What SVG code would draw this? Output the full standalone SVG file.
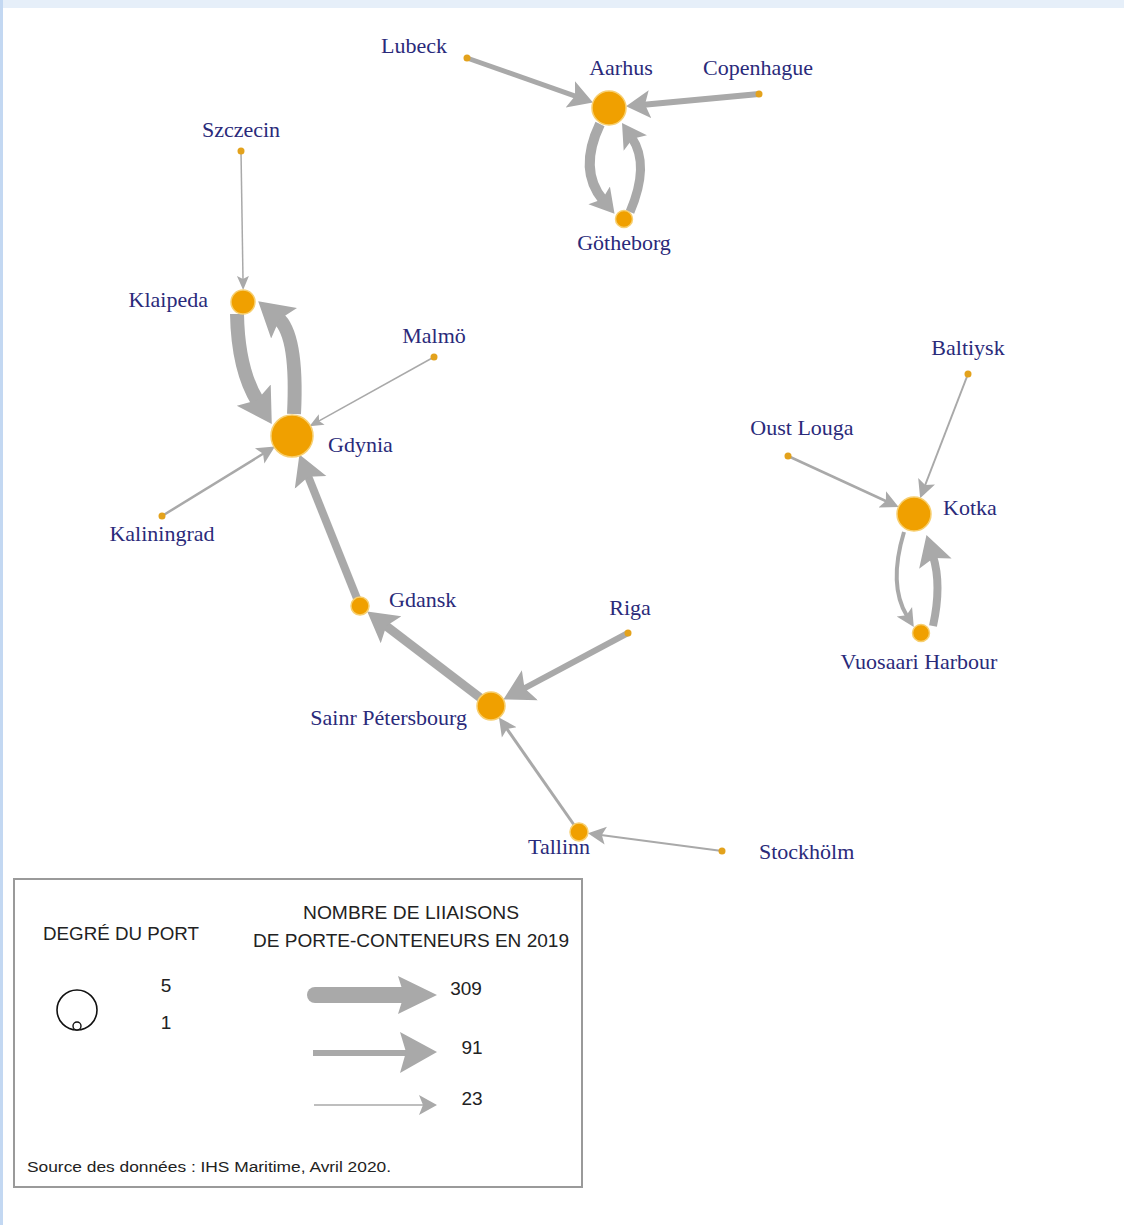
<svg xmlns="http://www.w3.org/2000/svg" width="1124" height="1225" viewBox="0 0 1124 1225">
<style>
.e{fill:none;stroke:#a9a9a9;stroke-linecap:butt}
.hub{fill:#f0a000;stroke:#f7cf70;stroke-width:1.5}
.dot{fill:#e3a21c}
.lbl{font-family:"Liberation Serif","Times New Roman",serif;font-size:22px;fill:#2a2a7a}
.lg{font-family:"Liberation Sans",Arial,sans-serif;fill:#222}
.la{fill:#a9a9a9}
</style>
<defs>
<marker id="ah-s" markerUnits="userSpaceOnUse" viewBox="0 -7 15 14" markerWidth="15" markerHeight="14" refX="4" refY="0" orient="auto"><path d="M0,-6 L14,0 L0,6 L3,0 Z" fill="#a9a9a9"/></marker>
<marker id="ah-s2" markerUnits="userSpaceOnUse" viewBox="0 -10 19 20" markerWidth="19" markerHeight="20" refX="5" refY="0" orient="auto"><path d="M0,-9 L18,0 L0,9 L4,0 Z" fill="#a9a9a9"/></marker>
<marker id="ah-m" markerUnits="userSpaceOnUse" viewBox="0 -15 25 30" markerWidth="25" markerHeight="30" refX="6" refY="0" orient="auto"><path d="M0,-14 L24,0 L0,14 L5,0 Z" fill="#a9a9a9"/></marker>
<marker id="ah-l" markerUnits="userSpaceOnUse" viewBox="0 -18 31 36" markerWidth="31" markerHeight="36" refX="8" refY="0" orient="auto"><path d="M0,-17 L30,0 L0,17 L6,0 Z" fill="#a9a9a9"/></marker>
<marker id="ah-xl" markerUnits="userSpaceOnUse" viewBox="0 -21 35 42" markerWidth="35" markerHeight="42" refX="8" refY="0" orient="auto"><path d="M0,-20 L34,0 L0,20 L6,0 Z" fill="#a9a9a9"/></marker>
</defs>
<rect x="0" y="0" width="1124" height="1225" fill="#ffffff"/>
<rect x="0" y="0" width="1124" height="8" fill="#e6eff9"/>
<rect x="0" y="0" width="3" height="1225" fill="#c3d8f2"/>

<g id="connectors">
<path class="e" d="M467,58 L576,96.4" stroke-width="5" marker-end="url(#ah-m)"/>
<path class="e" d="M759,94 L644,104.7" stroke-width="6" marker-end="url(#ah-m)"/>
<path class="e" d="M600,124 Q578,170 603,200" stroke-width="10" marker-end="url(#ah-m)"/>
<path class="e" d="M630,212 Q650,165 632,138" stroke-width="9" marker-end="url(#ah-m)"/>
<path class="e" d="M241,151 L243,280" stroke-width="1.5" marker-end="url(#ah-s)"/>
<path class="e" d="M237,314 Q238,370 258,402" stroke-width="14" marker-end="url(#ah-xl)"/>
<path class="e" d="M294,414 Q298,335 278,318" stroke-width="14" marker-end="url(#ah-xl)"/>
<path class="e" d="M434,357 L318.2,421.4" stroke-width="1.5" marker-end="url(#ah-s)"/>
<path class="e" d="M162,516 L263.9,453.3" stroke-width="2.5" marker-end="url(#ah-s2)"/>
<path class="e" d="M360,606 L307.6,475" stroke-width="8" marker-end="url(#ah-l)"/>
<path class="e" d="M491,706 L384.7,624.9" stroke-width="9" marker-end="url(#ah-l)"/>
<path class="e" d="M628,633 L522.8,689.1" stroke-width="6" marker-end="url(#ah-l)"/>
<path class="e" d="M579,832 L506.4,728.2" stroke-width="3" marker-end="url(#ah-s2)"/>
<path class="e" d="M722,851 L600.8,834.9" stroke-width="2" marker-end="url(#ah-s2)"/>
<path class="e" d="M968,374 L924.8,486" stroke-width="2" marker-end="url(#ah-s2)"/>
<path class="e" d="M788,456 L886.8,501.5" stroke-width="2.5" marker-end="url(#ah-s2)"/>
<path class="e" d="M904,532 Q888,585 907,616" stroke-width="4" marker-end="url(#ah-s2)"/>
<path class="e" d="M933,626 Q942,585 933,556" stroke-width="8" marker-end="url(#ah-l)"/>
</g>

<g id="node-lubeck"><circle class="dot" cx="467" cy="58" r="3.5"/><text class="lbl" x="414" y="53" text-anchor="middle">Lubeck</text></g>
<g id="node-aarhus"><circle class="hub" cx="609" cy="108" r="17"/><text class="lbl" x="621" y="75" text-anchor="middle">Aarhus</text></g>
<g id="node-copenhague"><circle class="dot" cx="759" cy="94" r="3.5"/><text class="lbl" x="758" y="75" text-anchor="middle">Copenhague</text></g>
<g id="node-gotheborg"><circle class="hub" cx="624" cy="219" r="8.5"/><text class="lbl" x="624" y="250" text-anchor="middle">Götheborg</text></g>
<g id="node-szczecin"><circle class="dot" cx="241" cy="151" r="3.5"/><text class="lbl" x="241" y="137" text-anchor="middle">Szczecin</text></g>
<g id="node-klaipeda"><circle class="hub" cx="243" cy="302" r="12"/><text class="lbl" x="208" y="307" text-anchor="end">Klaipeda</text></g>
<g id="node-malmo"><circle class="dot" cx="434" cy="357" r="3.5"/><text class="lbl" x="434" y="343" text-anchor="middle">Malmö</text></g>
<g id="node-gdynia"><circle class="hub" cx="292" cy="436" r="21"/><text class="lbl" x="328" y="452">Gdynia</text></g>
<g id="node-kaliningrad"><circle class="dot" cx="162" cy="516" r="3.5"/><text class="lbl" x="162" y="541" text-anchor="middle">Kaliningrad</text></g>
<g id="node-gdansk"><circle class="hub" cx="360" cy="606" r="9"/><text class="lbl" x="389" y="607">Gdansk</text></g>
<g id="node-riga"><circle class="dot" cx="628" cy="633" r="3.5"/><text class="lbl" x="630" y="615" text-anchor="middle">Riga</text></g>
<g id="node-saint-petersbourg"><circle class="hub" cx="491" cy="706" r="14"/><text class="lbl" x="467" y="725" text-anchor="end">Sainr Pétersbourg</text></g>
<g id="node-tallinn"><circle class="hub" cx="579" cy="832" r="9"/><text class="lbl" x="559" y="854" text-anchor="middle">Tallinn</text></g>
<g id="node-stockholm"><circle class="dot" cx="722" cy="851" r="3.5"/><text class="lbl" x="759" y="859">Stockhölm</text></g>
<g id="node-baltiysk"><circle class="dot" cx="968" cy="374" r="3.5"/><text class="lbl" x="968" y="355" text-anchor="middle">Baltiysk</text></g>
<g id="node-oust-louga"><circle class="dot" cx="788" cy="456" r="3.5"/><text class="lbl" x="802" y="435" text-anchor="middle">Oust Louga</text></g>
<g id="node-kotka"><circle class="hub" cx="914" cy="514" r="17"/><text class="lbl" x="943" y="515">Kotka</text></g>
<g id="node-vuosaari"><circle class="hub" cx="921" cy="633" r="8.5"/><text class="lbl" x="919" y="669" text-anchor="middle">Vuosaari Harbour</text></g>

<g id="legend">
<rect x="14" y="879" width="568" height="308" fill="#ffffff" stroke="#9a9a9a" stroke-width="2"/>
<text class="lg" x="43" y="940" font-size="19" textLength="156" lengthAdjust="spacingAndGlyphs">DEGRÉ DU PORT</text>
<text class="lg" x="303" y="919" font-size="19" textLength="216" lengthAdjust="spacingAndGlyphs">NOMBRE DE LIIAISONS</text>
<text class="lg" x="253" y="947" font-size="19" textLength="316" lengthAdjust="spacingAndGlyphs">DE PORTE-CONTENEURS EN 2019</text>
<circle cx="77" cy="1010" r="20" fill="none" stroke="#111" stroke-width="1.6"/>
<circle cx="77" cy="1026" r="4" fill="#fff" stroke="#111" stroke-width="1.4"/>
<text class="lg" x="166" y="992" font-size="19" text-anchor="middle">5</text>
<text class="lg" x="166" y="1029" font-size="19" text-anchor="middle">1</text>
<line x1="315" y1="995" x2="404" y2="995" stroke="#a9a9a9" stroke-width="16" stroke-linecap="round"/>
<path class="la" d="M398,976 L437,995 L398,1014 L404,995 Z"/>
<line x1="313" y1="1053" x2="406" y2="1053" stroke="#a9a9a9" stroke-width="6"/>
<path class="la" d="M400,1032 L437,1052 L400,1073 L406,1052 Z"/>
<line x1="314" y1="1105" x2="424" y2="1105" stroke="#a9a9a9" stroke-width="1.5"/>
<path class="la" d="M419,1095 L437,1105 L419,1115 L423,1105 Z"/>
<text class="lg" x="466" y="995" font-size="19" text-anchor="middle">309</text>
<text class="lg" x="472" y="1054" font-size="19" text-anchor="middle">91</text>
<text class="lg" x="472" y="1105" font-size="19" text-anchor="middle">23</text>
<text class="lg" x="27" y="1172" font-size="15.5" textLength="364" lengthAdjust="spacingAndGlyphs">Source des données : IHS Maritime, Avril 2020.</text>
</g>
</svg>
